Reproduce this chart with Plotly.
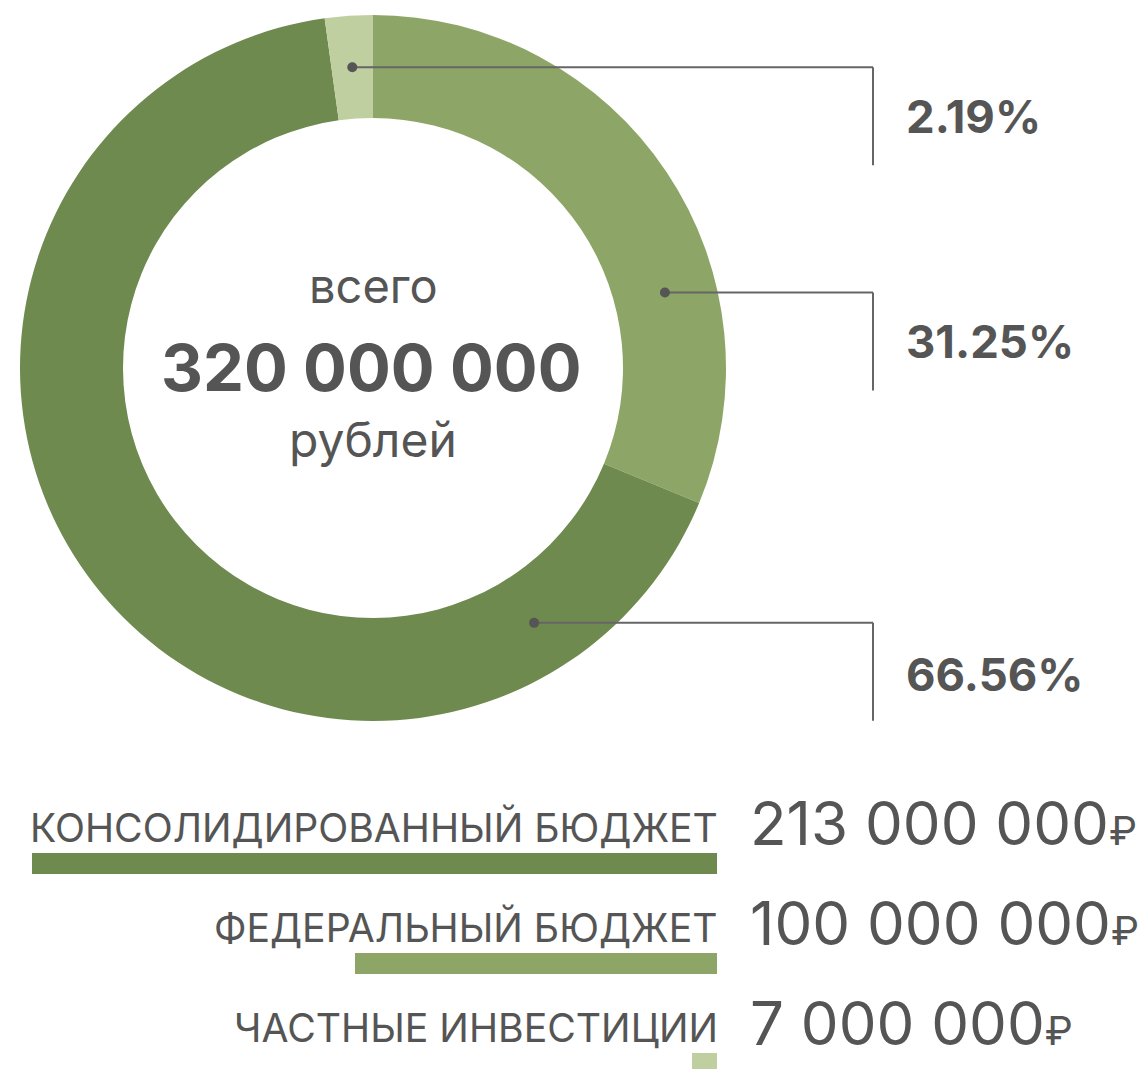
import math
import plotly.graph_objects as go

# Funding sources (rubles)
sources = ["КОНСОЛИДИРОВАННЫЙ БЮДЖЕТ", "ФЕДЕРАЛЬНЫЙ БЮДЖЕТ", "ЧАСТНЫЕ ИНВЕСТИЦИИ"]
amounts = [213_000_000, 100_000_000, 7_000_000]
colors = ["#6f8a4f", "#8da667", "#bfcfa0"]

# Ring order (clockwise from 12 o'clock)
ring_order = [1, 0, 2]

W, H = 1147, 1069
TEXT = "#555555"
LINE = "#666666"
FONT = "Inter"

total = sum(amounts)


def px(x):
    return x / W


def py(y):
    return 1 - y / H


def fmt_int(v):
    return f"{v:,}".replace(",", " ")


# donut geometry (pixels)
CX, CY, R_OUT, R_IN = 373, 368, 353, 250

fig = go.Figure()

fig.add_trace(go.Pie(
    labels=[sources[i] for i in ring_order],
    values=[amounts[i] for i in ring_order],
    marker=dict(colors=[colors[i] for i in ring_order], line=dict(width=0)),
    sort=False,
    direction="clockwise",
    rotation=0,
    hole=R_IN / R_OUT,
    textinfo="none",
    hoverinfo="label+value+percent",
    showlegend=False,
    domain=dict(x=[px(CX - R_OUT), px(CX + R_OUT)], y=[py(CY + R_OUT), py(CY - R_OUT)]),
))

# Leader lines: anchor angle (deg clockwise from top) per source
leader_angle = {1: 75.5, 0: 147.7}
label_drop = {2: 49, 1: 49, 0: 52}
R_MID = (R_OUT + R_IN) / 2
LINE_X = 873

shapes = []
annotations = []
start = 0.0
for i in ring_order:
    share = amounts[i] / total
    span = share * 360
    ang = leader_angle.get(i, start + span / 2)
    a = math.radians(ang)
    dx = CX + R_MID * math.sin(a)
    dy = CY - R_MID * math.cos(a)
    start += span
    shapes.append(dict(type="line", xref="paper", yref="paper",
                       x0=px(dx), y0=py(dy), x1=px(LINE_X), y1=py(dy),
                       line=dict(color=LINE, width=2)))
    shapes.append(dict(type="line", xref="paper", yref="paper",
                       x0=px(LINE_X), y0=py(dy), x1=px(LINE_X), y1=py(dy + 98),
                       line=dict(color=LINE, width=2)))
    shapes.append(dict(type="circle", xref="paper", yref="paper",
                       x0=px(dx - 5), x1=px(dx + 5), y0=py(dy + 5), y1=py(dy - 5),
                       fillcolor=TEXT, line=dict(width=0)))
    annotations.append(dict(
        x=px(904), y=py(dy + label_drop[i]), xref="paper", yref="paper",
        xanchor="left", yanchor="middle", showarrow=False,
        text=f"<b>{share * 100:.2f}%</b>",
        font=dict(family=FONT, size=45.5, color=TEXT),
    ))

# Centre caption
annotations += [
    dict(x=px(CX), y=py(286), text="всего", font=dict(family=FONT, size=47, color=TEXT)),
    dict(x=px(CX - 2), y=py(367), text=f"<b>{fmt_int(total)}</b>",
         font=dict(family=FONT, size=65, color=TEXT)),
    dict(x=px(CX), y=py(440), text="рублей", font=dict(family=FONT, size=48, color=TEXT)),
]
for a in annotations[-3:]:
    a.update(xref="paper", yref="paper", xanchor="center", yanchor="middle", showarrow=False)

# Bottom rows: labels, amounts and proportional bars
ROW_Y = [827, 927, 1027]
for k, i in enumerate(range(len(sources))):
    annotations.append(dict(
        x=px(720), y=py(ROW_Y[k]), xref="paper", yref="paper",
        xanchor="right", yanchor="middle", showarrow=False,
        text=sources[i], font=dict(family=FONT, size=39.2, color=TEXT),
    ))
    annotations.append(dict(
        x=px(748), y=py(ROW_Y[k] - 4), xref="paper", yref="paper",
        xanchor="left", yanchor="middle", showarrow=False,
        text=f"{fmt_int(amounts[i])}<span style='font-size:40px'>₽</span>",
        font=dict(family=FONT, size=60, color=TEXT),
    ))

fig.add_trace(go.Bar(
    x=[v / 1e6 for v in amounts],
    y=list(range(len(sources))),
    orientation="h",
    width=0.215,
    marker=dict(color=colors, line=dict(width=0)),
    hovertext=sources,
    hoverinfo="text+x",
    showlegend=False,
    xaxis="x", yaxis="y",
))

BAR_X0, BAR_X1 = 32, 717
PX_PER_M = 3.62
BAR_TOP, BAR_BOTTOM = 800, 1069
ROW_PITCH = 100
FIRST_BAR_CENTER = 863.5

fig.update_layout(
    width=W, height=H,
    margin=dict(l=0, r=0, t=0, b=0),
    paper_bgcolor="white", plot_bgcolor="rgba(0,0,0,0)",
    shapes=shapes,
    annotations=annotations,
    xaxis=dict(domain=[px(BAR_X0), px(BAR_X1)],
               range=[(BAR_X1 - BAR_X0) / PX_PER_M, 0],
               visible=False, fixedrange=True),
    yaxis=dict(domain=[py(BAR_BOTTOM), py(BAR_TOP)],
               range=[(BAR_BOTTOM - FIRST_BAR_CENTER) / ROW_PITCH,
                      (BAR_TOP - FIRST_BAR_CENTER) / ROW_PITCH],
               visible=False, fixedrange=True),
    bargap=0,
)

fig.write_html("out.html")
